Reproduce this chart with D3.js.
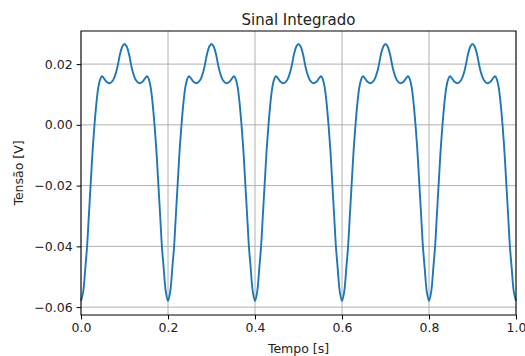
<!DOCTYPE html>
<html>
<head>
<meta charset="utf-8">
<script src="https://cdn.jsdelivr.net/npm/d3@7"></script>
<style>
  body { margin: 0; background: #fff; }
  svg { display: block; font-family: "DejaVu Sans", sans-serif; }
</style>
</head>
<body>
<svg id="chart" width="525" height="356"></svg>
<script>
// one period (0.2 s) of the curve
const periodTime = [0, 0.005, 0.010, 0.014, 0.018, 0.022, 0.026, 0.031, 0.036, 0.040,
  0.044, 0.048, 0.052, 0.058, 0.066, 0.074, 0.082, 0.090, 0.095, 0.100,
  0.105, 0.110, 0.118, 0.126, 0.134, 0.142, 0.148, 0.152, 0.156, 0.160,
  0.164, 0.169, 0.174, 0.178, 0.182, 0.186, 0.190, 0.195];
const periodValue = [-0.0580, -0.0550, -0.0470, -0.0400, -0.0300, -0.0200, -0.0100, 0.0000, 0.0080, 0.0125,
  0.0150, 0.0160, 0.0155, 0.0143, 0.0137, 0.0148, 0.0180, 0.0235, 0.0258, 0.0266,
  0.0258, 0.0235, 0.0180, 0.0148, 0.0137, 0.0143, 0.0155, 0.0160, 0.0150, 0.0125,
  0.0080, 0.0000, -0.0100, -0.0200, -0.0300, -0.0400, -0.0470, -0.0550];
const periodLength = 0.2;
const cycles = 5;

const xTicks = [0, 0.2, 0.4, 0.6, 0.8, 1.0];
const yTicks = [-0.06, -0.04, -0.02, 0.00, 0.02];

const series = [];
for (let c = 0; c < cycles; c++) {
  periodTime.forEach((t, i) => series.push({ t: c * periodLength + t, v: periodValue[i] }));
}
series.push({ t: 1.0, v: periodValue[0] });

const svg = d3.select("#chart");
const margin = { left: 81, right: 9, top: 31, bottom: 41 };
const width = 525, height = 356;

const x = d3.scaleLinear().domain([0, 1]).range([margin.left, width - margin.right]);
const y = d3.scaleLinear().domain([-0.0626, 0.0309]).range([height - margin.bottom, margin.top]);

const fmt = v => d3.format(".1f")(v);
const fmtY = v => d3.format(".2f")(v).replace("-", "\u2212");

// grid
svg.append("g").selectAll("line").data(xTicks).join("line")
  .attr("x1", d => x(d)).attr("x2", d => x(d))
  .attr("y1", margin.top).attr("y2", height - margin.bottom)
  .attr("stroke", "#b0b0b0").attr("stroke-width", 1);
svg.append("g").selectAll("line").data(yTicks).join("line")
  .attr("x1", margin.left).attr("x2", width - margin.right)
  .attr("y1", d => y(d)).attr("y2", d => y(d))
  .attr("stroke", "#b0b0b0").attr("stroke-width", 1);

// line
svg.append("path")
  .datum(series)
  .attr("fill", "none")
  .attr("stroke", "#1f77b4")
  .attr("stroke-width", 1.9)
  .attr("d", d3.line().x(d => x(d.t)).y(d => y(d.v)).curve(d3.curveCatmullRom));

// axes
const xAxis = svg.append("g")
  .attr("transform", `translate(0,${height - margin.bottom})`)
  .call(d3.axisBottom(x).tickValues(xTicks).tickFormat(fmt).tickSizeInner(4.4).tickSizeOuter(0).tickPadding(3.5));
const yAxis = svg.append("g")
  .attr("transform", `translate(${margin.left},0)`)
  .call(d3.axisLeft(y).tickValues(yTicks).tickFormat(fmtY).tickSizeInner(4.4).tickSizeOuter(0).tickPadding(4));
[xAxis, yAxis].forEach(g => {
  g.select(".domain").remove();
  g.selectAll("line").attr("stroke", "#000").attr("stroke-width", 1);
  g.selectAll("text").attr("font-size", 12.5).attr("fill", "#222")
    .attr("font-family", "DejaVu Sans, sans-serif");
});

// frame
svg.append("rect")
  .attr("x", margin.left).attr("y", margin.top)
  .attr("width", width - margin.left - margin.right)
  .attr("height", height - margin.top - margin.bottom)
  .attr("fill", "none").attr("stroke", "#000").attr("stroke-width", 1);

// labels
svg.append("text")
  .attr("x", (margin.left + width - margin.right) / 2).attr("y", 25)
  .attr("text-anchor", "middle").attr("font-size", 15).attr("fill", "#222")
  .text("Sinal Integrado");
svg.append("text")
  .attr("x", (margin.left + width - margin.right) / 2).attr("y", 353)
  .attr("text-anchor", "middle").attr("font-size", 12.5).attr("fill", "#222")
  .text("Tempo [s]");
svg.append("text")
  .attr("transform", `translate(23,${(margin.top + height - margin.bottom) / 2}) rotate(-90)`)
  .attr("text-anchor", "middle").attr("font-size", 12.5).attr("fill", "#222")
  .text("Tensão [V]");
</script>
</body>
</html>
